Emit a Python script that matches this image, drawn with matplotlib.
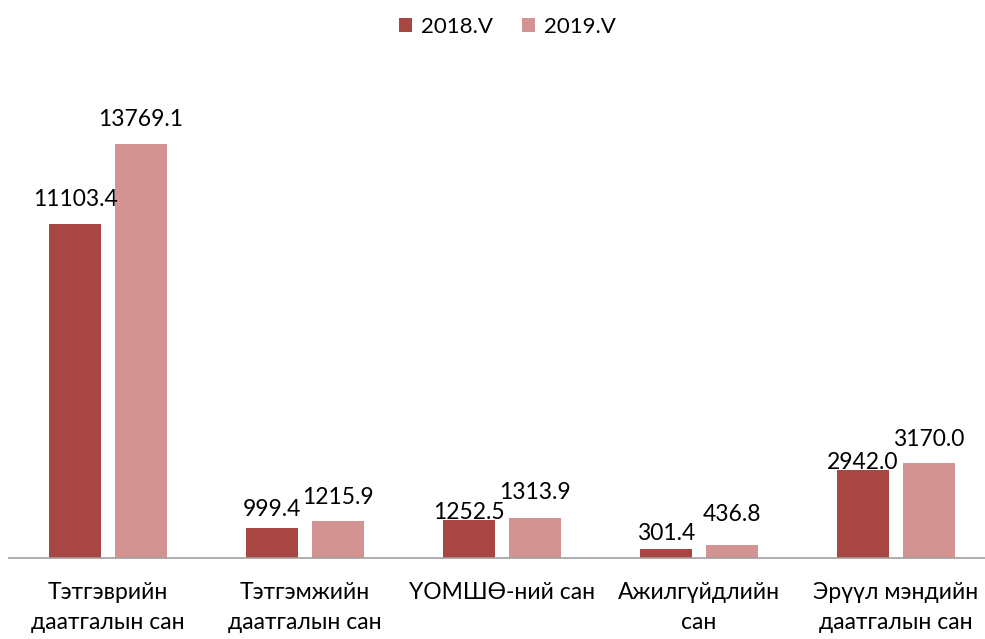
import matplotlib
matplotlib.use("Agg")
import matplotlib.pyplot as plt
import numpy as np

categories = ["Тэтгэврийн\nдаатгалын сан", "Тэтгэмжийн\nдаатгалын сан", "ҮОМШӨ-ний сан",
              "Ажилгүйдлийн\nсан", "Эрүүл мэндийн\nдаатгалын сан"]
series_names = ["2018.V", "2019.V"]
values_2018 = [11103.4, 999.4, 1252.5, 301.4, 2942.0]
values_2019 = [13769.1, 1215.9, 1313.9, 436.8, 3170.0]

colors = ["#A84644", "#D39392"]
# label gaps in pixels between bar top and text baseline (style only)
gaps_2018 = [18, 12, 1, 9, 1]
gaps_2019 = [18, 17, 19, 24, 17]

plt.rcParams['font.family'] = ['Lato', 'DejaVu Sans']

fig = plt.figure(figsize=(9.85, 6.39), dpi=100)
ax = fig.add_axes([0.0096, 0.1268, 1.0, 0.7527])

x = np.arange(len(categories))
w = 0.264
off = 0.167
b1 = ax.bar(x - off, values_2018, w, color=colors[0], label=series_names[0])
b2 = ax.bar(x + off, values_2019, w, color=colors[1], label=series_names[1])

for bars, vals, gaps in [(b1, values_2018, gaps_2018), (b2, values_2019, gaps_2019)]:
    for r, v, g in zip(bars, vals, gaps):
        ax.annotate(f"{v:.1f}", (r.get_x() + r.get_width() / 2, r.get_height()),
                    xytext=(0, g), textcoords="offset pixels", ha="center", va="baseline",
                    fontsize=16.5, color="black")

ax.set_xlim(-0.5, len(categories) - 0.5)
ax.set_ylim(0, 16000)
ax.set_yticks([])
ax.set_xticks(x)
ax.set_xticklabels(categories, fontsize=16.5, linespacing=1.55)
ax.tick_params(axis='x', length=0, pad=17)
for s in ["top", "right", "left"]:
    ax.spines[s].set_visible(False)
ax.spines["bottom"].set_color("#A0A0A0")
ax.spines["bottom"].set_linewidth(1.2)

fig.legend(handles=[b1, b2], labels=series_names, loc="upper center",
           bbox_to_anchor=(0.515, 1.005), ncol=2, frameon=False, fontsize=16,
           handlelength=0.6, handleheight=0.6, handletextpad=0.4, columnspacing=1.3)

fig.savefig("out.png", dpi=100)
